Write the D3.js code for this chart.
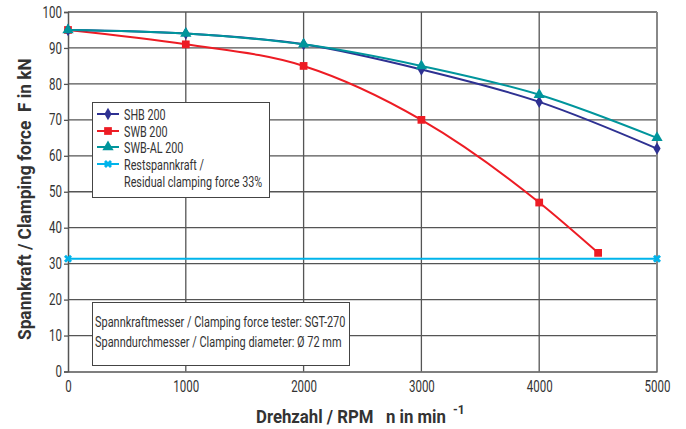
<!DOCTYPE html>
<html><head><meta charset="utf-8">
<script src="https://cdn.jsdelivr.net/npm/d3@7"></script>
<style>
body{margin:0;background:#fff;}
text{font-family:Roboto,"Liberation Sans",sans-serif;}
</style></head>
<body><svg id="c" width="686" height="429"></svg>
<script>
const rpm = [0, 1000, 2000, 3000, 4000, 5000];
const shb200 = [95, 94, 91, 84, 75, 62];
const swbRpm = [0, 1000, 2000, 3000, 4000, 4500];
const swb200 = [95, 91, 85, 70, 47, 33];
const swbAl200 = [95, 94, 91, 85, 77, 65];
const restRpm = [0, 5000];
const rest = [31.35, 31.35];
const xTicks = [0, 1000, 2000, 3000, 4000, 5000];
const yTicks = [0, 10, 20, 30, 40, 50, 60, 70, 80, 90, 100];
const legendLabels = ["SHB 200", "SWB 200", "SWB-AL 200", "Restspannkraft /", "Residual clamping force 33%"];
const noteLines = ["Spannkraftmesser / Clamping force tester: SGT-270", "Spanndurchmesser / Clamping diameter: Ø 72 mm"];
const xTitle = "Drehzahl / RPM\u00a0\u00a0\u00a0n in min";
const yTitle = "Spannkraft / Clamping force\u00a0\u00a0F in kN";

const svg = d3.select("#c");
const L = 68, R = 657, T = 12, B = 371.5;
const x = d3.scaleLinear().domain([0, 5000]).range([L, R]);
const y = d3.scaleLinear().domain([0, 100]).range([B, T]);

function ctext(g, tx, ty, str, size, sx) {
  return g.append("text").attr("transform", `translate(${tx},${ty}) scale(${sx},1)`)
    .attr("font-size", size).attr("fill", "#333").text(str);
}

// grid
svg.append("g").selectAll("line").data(yTicks.slice(1)).join("line")
  .attr("x1", L).attr("x2", R).attr("y1", d => y(d)).attr("y2", d => y(d))
  .attr("stroke", "#555").attr("stroke-width", 1.3);
svg.append("g").selectAll("line").data(xTicks.slice(1)).join("line")
  .attr("y1", T).attr("y2", B).attr("x1", d => x(d)).attr("x2", d => x(d))
  .attr("stroke", "#555").attr("stroke-width", 1.3);
svg.append("line").attr("x1", R).attr("x2", R).attr("y1", T).attr("y2", B).attr("stroke", "#888").attr("stroke-width", 2);

// axes
const sxTick = 0.72;
const yAxis = svg.append("g").attr("transform", `translate(${L},0)`)
  .call(d3.axisLeft(y).tickValues(yTicks).tickSize(4).tickFormat(d3.format("d")));
const xAxis = svg.append("g").attr("transform", `translate(0,${B})`)
  .call(d3.axisBottom(x).tickValues(xTicks).tickSize(0).tickFormat(d3.format("d")));
[yAxis, xAxis].forEach(a => {
  a.select(".domain").attr("stroke", "#555").attr("stroke-width", 1.5);
  a.selectAll(".tick line").attr("stroke", "#555").attr("stroke-width", 1.3);
  a.selectAll("text").attr("font-size", 16).attr("fill", "#333")
   .attr("font-family", "Roboto,sans-serif");
});
yAxis.selectAll("text").attr("x", -6 / sxTick).attr("transform", `scale(${sxTick},1)`);
xAxis.selectAll("text").attr("y", 9).attr("dy", "0.71em").attr("transform", `scale(${sxTick},1)`);

const line = d3.line().x(d => x(d[0])).y(d => y(d[1])).curve(d3.curveMonotoneX);
const series = [
  {xs: rpm, ys: shb200, color: "#2e3192", sym: d3.symbolDiamond, size: 45},
  {xs: swbRpm, ys: swb200, color: "#ed1c24", sym: d3.symbolSquare, size: 60},
  {xs: rpm, ys: swbAl200, color: "#00959c", sym: d3.symbolTriangle, size: 55},
  {xs: restRpm, ys: rest, color: "#00b4eb", sym: d3.symbolCross, size: 40, rot: 45}
];
[3, 1, 0, 2].forEach(i => {
  const s = series[i];
  const pts = s.xs.map((v, k) => [v, s.ys[k]]);
  svg.append("path").attr("d", line(pts)).attr("fill", "none")
    .attr("stroke", s.color).attr("stroke-width", 2);
  svg.append("g").selectAll("path").data(pts).join("path")
    .attr("d", d3.symbol().type(s.sym).size(s.size))
    .attr("transform", d => `translate(${x(d[0])},${y(d[1])}) rotate(${s.rot || 0})`)
    .attr("fill", s.color);
});

// legend
const lg = svg.append("g");
lg.append("rect").attr("x", 92.5).attr("y", 102.5).attr("width", 177).attr("height", 95)
  .attr("fill", "#fff").attr("stroke", "#444").attr("stroke-width", 1);
const rowsY = [114, 131, 147, 164, 181];
series.forEach((s, i) => {
  const yy = rowsY[i];
  lg.append("line").attr("x1", 97).attr("x2", 119).attr("y1", yy).attr("y2", yy)
    .attr("stroke", s.color).attr("stroke-width", 2);
  lg.append("path").attr("d", d3.symbol().type(s.sym).size(s.size))
    .attr("transform", `translate(108,${yy}) rotate(${s.rot || 0})`).attr("fill", s.color);
});
legendLabels.forEach((t, i) => ctext(lg, 124, rowsY[i] + 5.5, t, 15, 0.72));

// note box
const nb = svg.append("g");
nb.append("rect").attr("x", 92.5).attr("y", 302.5).attr("width", 257).attr("height", 63)
  .attr("fill", "#fff").attr("stroke", "#444").attr("stroke-width", 1);
noteLines.forEach((t, i) => ctext(nb, 95, 327 + i * 20, t, 15, 0.73));

// titles (scaled horizontally to fit the reference widths)
const xt = svg.append("text").attr("font-size", 19).attr("font-weight", "bold")
  .attr("fill", "#333").text(xTitle);
const xtLen = xt.node().getComputedTextLength();
xt.attr("transform", `translate(256,423) scale(${190 / xtLen},1)`);
svg.append("text").attr("x", 453).attr("y", 414).attr("font-size", 12).attr("font-weight", "bold")
  .attr("fill", "#333").text("-1");
const yt = svg.append("text").attr("font-size", 19).attr("font-weight", "bold")
  .attr("fill", "#333").text(yTitle);
const ytLen = yt.node().getComputedTextLength();
yt.attr("transform", `translate(31,340) rotate(-90) scale(${282 / ytLen},1)`);
</script></body></html>
